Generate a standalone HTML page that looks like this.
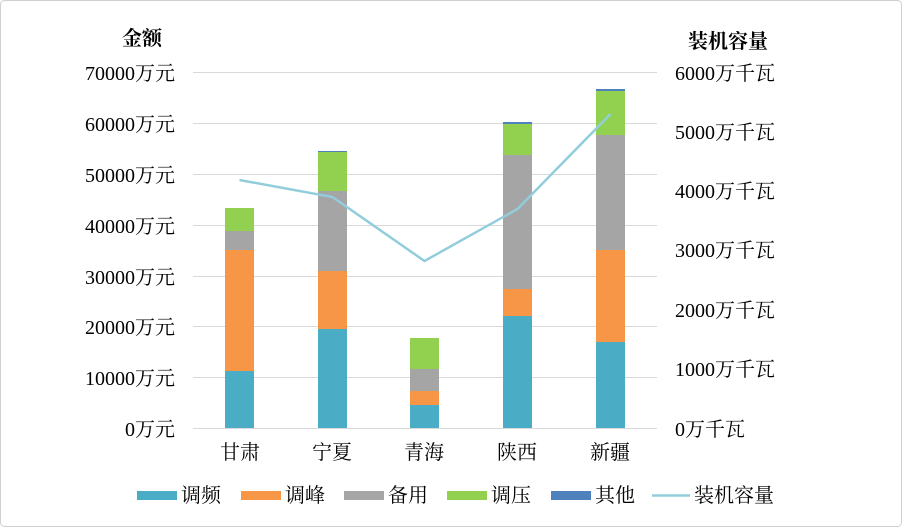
<!DOCTYPE html>
<html><head><meta charset="utf-8"><style>
body{margin:0;background:#fff}
svg text{font-family:"Liberation Serif","Noto Serif CJK SC",serif;fill:#000}
</style></head><body>
<svg width="902" height="527" xmlns="http://www.w3.org/2000/svg">
<rect x="0.5" y="0.5" width="901" height="526" rx="4" fill="#fff" stroke="#d0d0d0"/>
<g stroke="#d9d9d9" stroke-width="1">
<line x1="193" x2="657" y1="72.5" y2="72.5"/><line x1="193" x2="657" y1="123.5" y2="123.5"/>
<line x1="193" x2="657" y1="174.5" y2="174.5"/><line x1="193" x2="657" y1="225.5" y2="225.5"/>
<line x1="193" x2="657" y1="276.5" y2="276.5"/><line x1="193" x2="657" y1="326.5" y2="326.5"/>
<line x1="193" x2="657" y1="377.5" y2="377.5"/><line x1="193" x2="657" y1="428.5" y2="428.5"/>
</g>
<g font-size="20" text-anchor="end">
<text x="175" y="80">70000万元</text><text x="175" y="131">60000万元</text>
<text x="175" y="182">50000万元</text><text x="175" y="233">40000万元</text>
<text x="175" y="284">30000万元</text><text x="175" y="334">20000万元</text>
<text x="175" y="385">10000万元</text><text x="175" y="436">0万元</text>
</g>
<g font-size="20">
<text x="675" y="80">6000万千瓦</text><text x="675" y="139">5000万千瓦</text>
<text x="675" y="198">4000万千瓦</text><text x="675" y="257">3000万千瓦</text>
<text x="675" y="317">2000万千瓦</text><text x="675" y="376">1000万千瓦</text>
<text x="675" y="436">0万千瓦</text>
</g>
<text x="122" y="45" font-size="20" font-weight="bold">金额</text>
<text x="688" y="48" font-size="20" font-weight="bold">装机容量</text>
<g>
<rect x="225" y="371" width="29" height="57" fill="#4BACC6"/><rect x="225" y="250" width="29" height="121" fill="#F79646"/><rect x="225" y="231" width="29" height="19" fill="#A5A5A5"/><rect x="225" y="208" width="29" height="23" fill="#92D050"/>
<rect x="318" y="329" width="29" height="99" fill="#4BACC6"/><rect x="318" y="271" width="29" height="58" fill="#F79646"/><rect x="318" y="191" width="29" height="80" fill="#A5A5A5"/><rect x="318" y="152" width="29" height="39" fill="#92D050"/><rect x="318" y="151" width="29" height="1" fill="#4F81BD"/>
<rect x="410" y="405" width="29" height="23" fill="#4BACC6"/><rect x="410" y="391" width="29" height="14" fill="#F79646"/><rect x="410" y="369" width="29" height="22" fill="#A5A5A5"/><rect x="410" y="338" width="29" height="31" fill="#92D050"/>
<rect x="503" y="316" width="29" height="112" fill="#4BACC6"/><rect x="503" y="289" width="29" height="27" fill="#F79646"/><rect x="503" y="155" width="29" height="134" fill="#A5A5A5"/><rect x="503" y="124" width="29" height="31" fill="#92D050"/><rect x="503" y="122" width="29" height="2" fill="#4F81BD"/>
<rect x="596" y="342" width="29" height="86" fill="#4BACC6"/><rect x="596" y="250" width="29" height="92" fill="#F79646"/><rect x="596" y="135" width="29" height="115" fill="#A5A5A5"/><rect x="596" y="91" width="29" height="44" fill="#92D050"/><rect x="596" y="89" width="29" height="2" fill="#4F81BD"/>
</g>
<polyline points="239.5,180 332.5,197 424.5,261 517.5,209 610.5,114" fill="none" stroke="#92CDDC" stroke-width="2.5"/>
<g font-size="20" text-anchor="middle">
<text x="240" y="459">甘肃</text><text x="332" y="459">宁夏</text><text x="424" y="459">青海</text><text x="517" y="459">陕西</text><text x="610" y="459">新疆</text>
</g>
<g font-size="20">
<rect x="137" y="491" width="40" height="9" fill="#4BACC6"/><text x="181" y="502">调频</text>
<rect x="241" y="491" width="40" height="9" fill="#F79646"/><text x="285" y="502">调峰</text>
<rect x="344" y="491" width="40" height="9" fill="#A5A5A5"/><text x="388" y="502">备用</text>
<rect x="447" y="491" width="40" height="9" fill="#92D050"/><text x="491" y="502">调压</text>
<rect x="551" y="491" width="40" height="9" fill="#4F81BD"/><text x="595" y="502">其他</text>
<line x1="652" x2="690" y1="495.5" y2="495.5" stroke="#92CDDC" stroke-width="2.5"/><text x="694" y="502">装机容量</text>
</g>
</svg>
</body></html>
